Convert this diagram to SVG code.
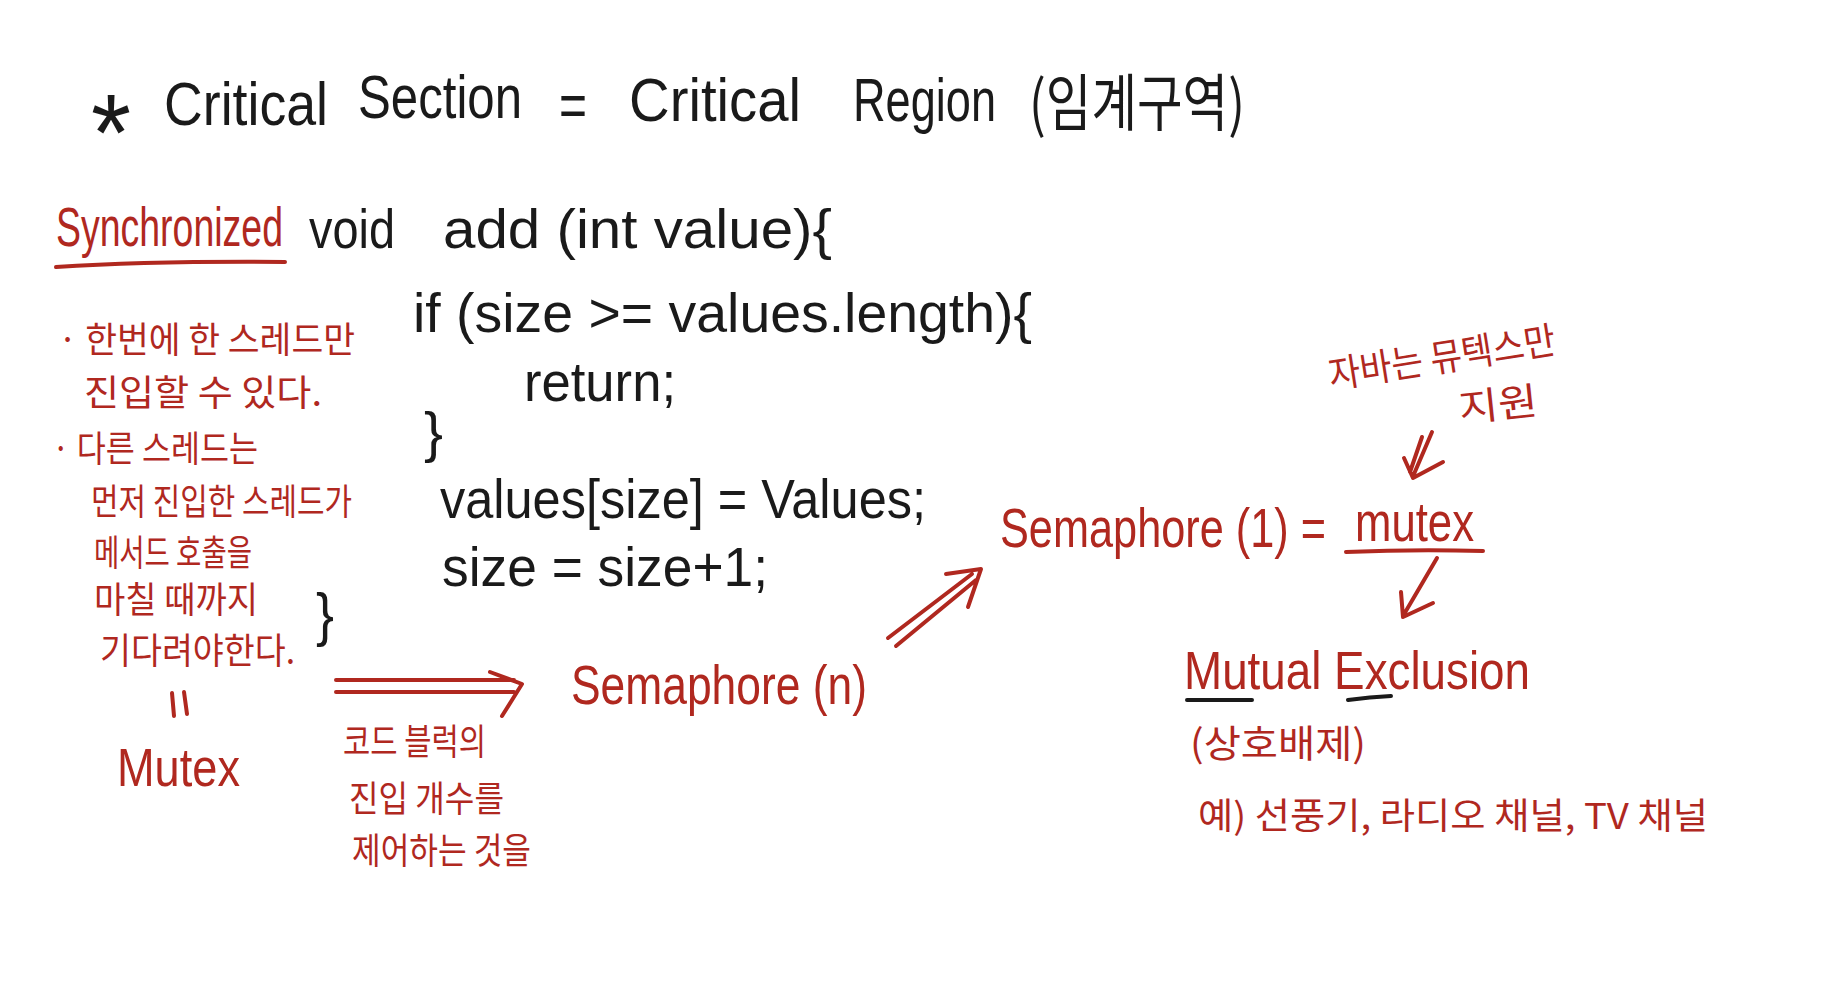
<svg xmlns="http://www.w3.org/2000/svg" width="1838" height="986" viewBox="0 0 1838 986">
<style>
text{font-family:"Liberation Sans","Noto Sans CJK KR",sans-serif;}
.k{fill:#1a1a1a;}
.r{fill:#b0281f;}
.kr{font-family:"Noto Sans CJK KR","Liberation Sans",sans-serif;}
.t{font-size:62px;}
.c{font-size:56px;}
.n{font-size:36px;}
.ln{fill:none;stroke-linecap:round;stroke-linejoin:round;}
.lr{stroke:#b0281f;stroke-width:4;}
.lk{stroke:#1a1a1a;stroke-width:4;}
</style>
<rect width="1838" height="986" fill="#ffffff"/>

<g id="title">
<text class="k" x="91" y="170" font-size="110" textLength="40" lengthAdjust="spacingAndGlyphs">*</text>
<text class="k t" x="164" y="125" textLength="164" lengthAdjust="spacingAndGlyphs">Critical</text>
<text class="k t" x="358" y="118" textLength="164" lengthAdjust="spacingAndGlyphs">Section</text>
<text class="k t" x="559" y="126" textLength="28" lengthAdjust="spacingAndGlyphs">=</text>
<text class="k t" x="629" y="121" textLength="172" lengthAdjust="spacingAndGlyphs">Critical</text>
<text class="k t" x="853" y="121" textLength="143" lengthAdjust="spacingAndGlyphs">Region</text>
<text class="k t kr" x="1029" y="126" textLength="216" lengthAdjust="spacingAndGlyphs">(임계구역)</text>
</g>

<g id="code">
<text class="r c" x="56" y="246" textLength="227" lengthAdjust="spacingAndGlyphs">Synchronized</text>
<path class="ln lr" d="M56,267 Q150,261 285,262"/>
<text class="k c" x="309" y="248" textLength="86" lengthAdjust="spacingAndGlyphs">void</text>
<text class="k c" x="443" y="248" textLength="389" lengthAdjust="spacingAndGlyphs">add (int value){</text>
<text class="k c" x="413" y="332" textLength="619" lengthAdjust="spacingAndGlyphs">if (size &gt;= values.length){</text>
<text class="k c" x="524" y="401" textLength="152" lengthAdjust="spacingAndGlyphs">return;</text>
<text class="k c" x="424" y="451" textLength="19" lengthAdjust="spacingAndGlyphs">}</text>
<text class="k c" x="440" y="518" textLength="486" lengthAdjust="spacingAndGlyphs">values[size] = Values;</text>
<text class="k c" x="442" y="586" textLength="326" lengthAdjust="spacingAndGlyphs">size = size+1;</text>
<text class="k" x="316" y="635" font-size="60" textLength="18" lengthAdjust="spacingAndGlyphs">}</text>
</g>

<g id="thread-notes">
<text class="r n kr" x="58" y="353" textLength="297" lengthAdjust="spacingAndGlyphs">· 한번에 한 스레드만</text>
<text class="r n kr" x="84" y="406" textLength="238" lengthAdjust="spacingAndGlyphs">진입할 수 있다.</text>
<text class="r n kr" x="52" y="462" textLength="206" lengthAdjust="spacingAndGlyphs">· 다른 스레드는</text>
<text class="r n kr" x="91" y="515" textLength="261" lengthAdjust="spacingAndGlyphs">먼저 진입한 스레드가</text>
<text class="r n kr" x="94" y="566" textLength="158" lengthAdjust="spacingAndGlyphs">메서드 호출을</text>
<text class="r n kr" x="94" y="613" textLength="164" lengthAdjust="spacingAndGlyphs">마칠 때까지</text>
<text class="r n kr" x="100" y="664" textLength="195" lengthAdjust="spacingAndGlyphs">기다려야한다.</text>
</g>

<g id="mutex-left">
<path class="ln lr" d="M172,693 L174,716 M184,692 L187,714"/>
<text class="r" x="117" y="786" font-size="54" textLength="123" lengthAdjust="spacingAndGlyphs">Mutex</text>
</g>

<g id="block-note">
<text class="r n kr" x="343" y="755" textLength="143" lengthAdjust="spacingAndGlyphs">코드 블럭의</text>
<text class="r n kr" x="349" y="812" textLength="155" lengthAdjust="spacingAndGlyphs">진입 개수를</text>
<text class="r n kr" x="352" y="864" textLength="179" lengthAdjust="spacingAndGlyphs">제어하는 것을</text>
</g>

<g id="semaphore-n">
<text class="r c" x="571" y="704" textLength="296" lengthAdjust="spacingAndGlyphs">Semaphore (n)</text>
</g>

<g id="semaphore-1">
<text class="r c" x="1000" y="547" textLength="326" lengthAdjust="spacingAndGlyphs">Semaphore (1) =</text>
<text class="r c" x="1355" y="541" textLength="119" lengthAdjust="spacingAndGlyphs">mutex</text>
<path class="ln lr" d="M1346,552 Q1415,549 1483,551"/>
</g>

<g id="java-note">
<text class="r kr" font-size="38" x="1442" y="371" text-anchor="middle" textLength="229" lengthAdjust="spacingAndGlyphs" transform="rotate(-9 1442 357)">자바는 뮤텍스만</text>
<text class="r kr" font-size="38" x="1498" y="418" text-anchor="middle" textLength="79" lengthAdjust="spacingAndGlyphs" transform="rotate(-6 1498 404)">지원</text>
</g>

<g id="mutual-exclusion">
<text class="r" x="1184" y="689" font-size="54" textLength="346" lengthAdjust="spacingAndGlyphs">Mutual Exclusion</text>
<path class="ln lk" d="M1187,700 L1252,700 M1348,700 Q1370,697 1391,696"/>
<text class="r kr" x="1190" y="757" font-size="38" textLength="176" lengthAdjust="spacingAndGlyphs">(상호배제)</text>
<text class="r n kr" x="1198" y="829" textLength="510" lengthAdjust="spacingAndGlyphs">예) 선풍기, 라디오 채널, TV 채널</text>
</g>

<g id="connectors">
<path class="ln lr" d="M336,680 L514,680 M336,692 L514,692 M490,672 L522,684 L502,716"/>
<path class="ln lr" d="M888,638 L972,574 M896,646 L976,580 M946,574 L981,569 L968,607"/>
<path class="ln lr" d="M1432,432 L1414,474 M1422,437 L1410,472 M1404,458 L1413,478 L1443,462"/>
<path class="ln lr" d="M1437,558 L1403,616 M1401,592 L1403,617 L1433,603"/>
</g>
</svg>
